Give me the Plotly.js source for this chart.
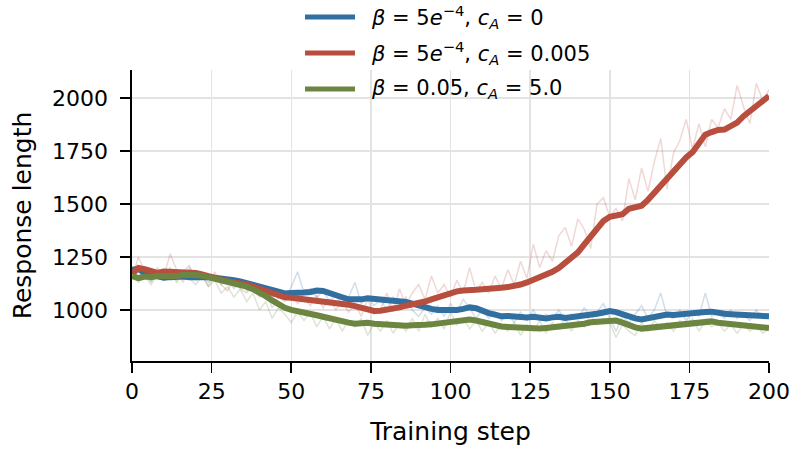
<!DOCTYPE html>
<html>
<head>
<meta charset="utf-8">
<script src="https://cdn.plot.ly/plotly-3.0.1.min.js"></script>
<style>html,body{margin:0;padding:0;background:#fff}#chart{width:792px;height:449px}</style>
</head>
<body>
<div id="chart"></div>
<script>
// Training steps (every 2 steps)
const steps = [0,2,4,6,8,10,12,14,16,18,20,22,24,26,28,30,32,34,36,38,40,42,44,46,48,50,52,54,56,58,60,62,64,66,68,70,72,74,76,78,80,82,84,86,88,90,92,94,96,98,100,102,104,106,108,110,112,114,116,118,120,122,124,126,128,130,132,134,136,138,140,142,144,146,148,150,152,154,156,158,160,162,164,166,168,170,172,174,176,178,180,182,184,186,188,190,192,194,196,198,200];

// Smoothed curves
const blueSmooth = [1190,1195,1172,1165,1160,1152,1155,1160,1158,1155,1157,1160,1155,1152,1150,1148,1140,1135,1127,1120,1110,1100,1090,1082,1078,1080,1078,1082,1085,1092,1090,1082,1072,1060,1050,1048,1050,1055,1052,1050,1045,1048,1040,1038,1030,1020,1010,1005,1000,998,1002,1000,1005,1012,1008,995,985,978,970,972,968,970,965,968,962,960,965,968,962,965,968,972,975,982,988,995,990,978,968,960,955,960,966,975,978,976,980,978,982,985,990,992,985,982,980,978,975,980,978,975,970];
const redSmooth = [1170,1198,1192,1180,1175,1182,1180,1185,1178,1180,1175,1168,1158,1150,1140,1135,1130,1128,1120,1110,1100,1088,1075,1065,1060,1058,1055,1052,1045,1042,1040,1040,1035,1030,1025,1018,1010,1000,995,996,1000,1008,1012,1020,1025,1032,1040,1050,1060,1072,1080,1088,1092,1090,1095,1098,1100,1096,1105,1108,1112,1120,1130,1142,1155,1168,1180,1198,1225,1248,1272,1310,1350,1388,1420,1440,1447,1452,1478,1485,1492,1520,1555,1588,1621,1660,1690,1720,1745,1790,1828,1840,1850,1852,1872,1885,1915,1940,1960,1985,2010];
const greenSmooth = [1160,1150,1158,1155,1160,1158,1162,1160,1165,1168,1165,1162,1155,1150,1145,1138,1130,1120,1110,1098,1085,1065,1045,1025,1010,1000,992,985,980,975,968,960,950,945,940,935,938,940,935,932,930,928,922,925,928,926,930,932,935,940,945,948,950,955,950,942,935,928,922,920,918,916,915,918,912,915,918,922,922,925,930,935,942,945,948,952,950,940,928,918,912,915,920,926,930,932,935,934,940,942,945,946,940,936,932,930,925,924,920,918,915];

// Raw (unsmoothed) curves
const blueRaw = [1200,1160,1190,1130,1180,1150,1200,1140,1180,1210,1140,1170,1130,1160,1120,1150,1100,1140,1090,1120,1070,1100,1060,1090,1050,1110,1180,1080,1100,1060,1090,1040,1070,1020,1060,1130,1030,1060,1020,1050,1000,1060,1020,1060,1000,970,1010,980,1020,970,1030,990,1050,1010,960,1000,960,990,950,980,940,990,950,1000,950,980,960,1000,950,980,960,1010,970,990,1030,960,900,970,940,980,1020,960,1000,1080,970,960,1000,950,990,970,1080,970,990,960,1000,960,980,950,1000,960,975];
const redRaw = [1150,1250,1180,1140,1200,1160,1265,1190,1130,1200,1150,1170,1110,1180,1120,1090,1150,1100,1080,1130,1060,1090,1010,1060,1040,1080,1030,1060,1020,1070,1010,1050,1000,1040,990,1030,970,1050,980,1000,1080,990,1100,1020,1080,1120,1050,1160,1080,1120,1060,1140,1080,1200,1090,1130,1080,1160,1100,1190,1120,1230,1150,1310,1200,1280,1230,1350,1390,1300,1430,1380,1290,1500,1530,1440,1480,1420,1620,1520,1670,1560,1700,1810,1570,1740,1800,1900,1760,1880,1770,1900,1860,1950,1900,2060,1960,1880,2070,1990,2040];
const greenRaw = [1170,1130,1160,1120,1170,1140,1180,1130,1170,1150,1120,1160,1110,1140,1080,1110,1060,1100,1040,1080,1000,1040,960,1010,980,940,990,950,990,920,970,910,960,900,950,920,960,880,940,900,950,890,940,900,960,900,980,920,960,910,990,930,960,910,950,900,940,890,930,900,940,880,930,900,950,890,940,910,960,900,950,920,980,930,960,940,870,930,900,880,940,900,950,910,940,900,950,920,960,900,950,920,940,900,930,890,930,900,930,890,910];

const labels = [
  '<i>β</i> = 5<i>e</i><sup>−4</sup>, <i>c</i><sub><i>A</i></sub> = 0',
  '<i>β</i> = 5<i>e</i><sup>−4</sup>, <i>c</i><sub><i>A</i></sub> = 0.005',
  '<i>β</i> = 0.05, <i>c</i><sub><i>A</i></sub> = 5.0'
];
const colors = ['#306fa0', '#b84f3e', '#6c8540'];
const xTicks = [0,25,50,75,100,125,150,175,200];
const yTicks = [1000,1250,1500,1750,2000];

const rawSeries = [blueRaw, redRaw, greenRaw];
const smoothSeries = [blueSmooth, redSmooth, greenSmooth];

const traces = [];
rawSeries.forEach((ys, i) => traces.push({
  x: steps, y: ys, type: 'scatter', mode: 'lines',
  line: {color: colors[i], width: 1.5}, opacity: 0.22,
  showlegend: false, hoverinfo: 'skip'
}));
smoothSeries.forEach((ys, i) => traces.push({
  x: steps, y: ys, type: 'scatter', mode: 'lines',
  line: {color: colors[i], width: 6}, name: labels[i], showlegend: false
}));

// Custom legend (line sample + text), placed in paper coordinates
const plotLeft = 132, plotW = 637, plotBottom = 361, plotH = 291;
const px = v => (v - plotLeft) / plotW;
const py = v => (plotBottom - v) / plotH;
const legendRowsY = [17, 53, 89];
const shapes = [], annotations = [];
legendRowsY.forEach((yy, i) => {
  shapes.push({type: 'line', xref: 'paper', yref: 'paper',
    x0: px(305), x1: px(355), y0: py(yy), y1: py(yy),
    line: {color: colors[i], width: 5}});
  annotations.push({xref: 'paper', yref: 'paper', x: px(369), y: py(yy),
    xanchor: 'left', yanchor: 'middle', showarrow: false,
    text: labels[i], font: {size: 21, color: '#000', family: 'DejaVu Sans'}});
});

const layout = {
  width: 792, height: 449,
  margin: {l: 132, r: 23, t: 70, b: 88},
  paper_bgcolor: '#fff', plot_bgcolor: '#fff',
  font: {family: 'DejaVu Sans', color: '#000', size: 22},
  xaxis: {
    range: [0, 200], tickvals: xTicks, ticktext: xTicks.map(String),
    showgrid: true, gridcolor: '#e3e3e3', gridwidth: 1.5,
    showline: true, linecolor: '#000', linewidth: 1.6,
    ticks: 'outside', ticklen: 10, tickwidth: 1.6, tickcolor: '#000',
    tickfont: {size: 22}, zeroline: false,
    title: {text: 'Training step', font: {size: 25}, standoff: 19}
  },
  yaxis: {
    range: [759, 2133], tickvals: yTicks, ticktext: yTicks.map(String),
    showgrid: true, gridcolor: '#e3e3e3', gridwidth: 1.5,
    showline: true, linecolor: '#000', linewidth: 1.6,
    ticks: 'outside', ticklen: 10, tickwidth: 1.6, tickcolor: '#000',
    tickfont: {size: 22}, zeroline: false, ticklabelstandoff: 8,
    title: {text: 'Response length', font: {size: 25}, standoff: 13}
  },
  showlegend: false,
  shapes: shapes,
  annotations: annotations
};

Plotly.newPlot('chart', traces, layout, {displayModeBar: false, staticPlot: true});
</script>
</body>
</html>
